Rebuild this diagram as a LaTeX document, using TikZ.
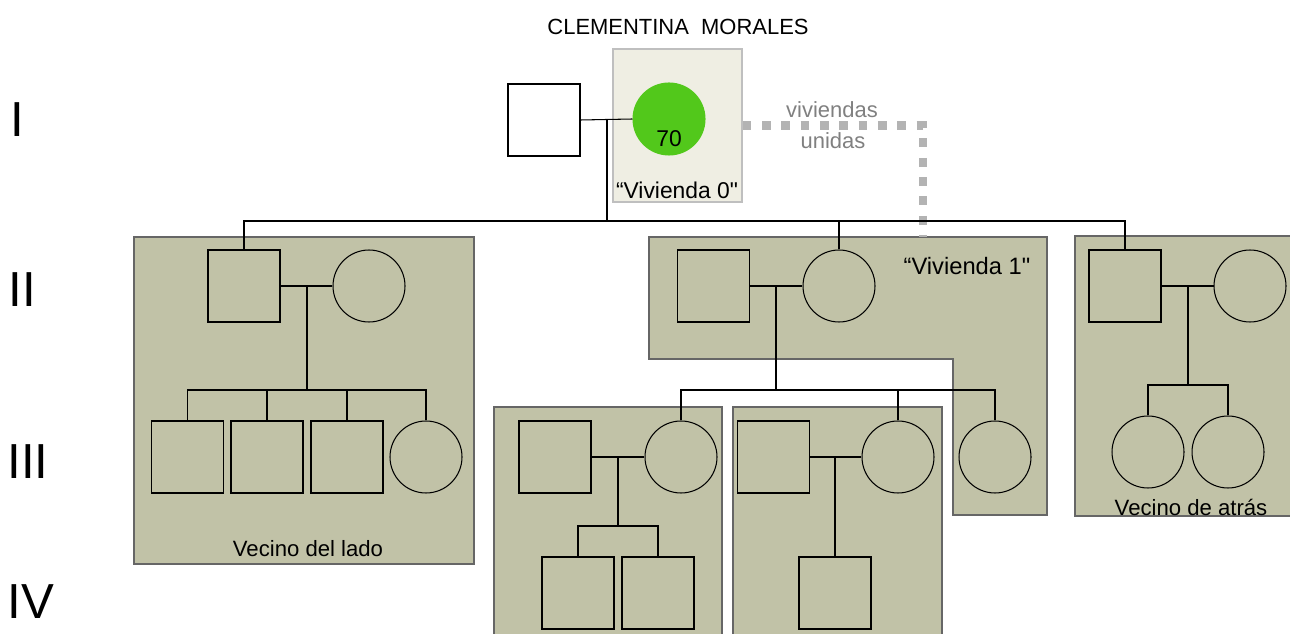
\documentclass[tikz,border=0pt]{standalone}
\usepackage{fontspec}
\setmainfont{Liberation Sans}
\definecolor{casa}{HTML}{C1C2A7}
\definecolor{casacero}{HTML}{EFEEE3}
\definecolor{verde}{HTML}{52C81B}
\definecolor{union}{HTML}{B3B3B3}

\begin{document}
\begin{tikzpicture}[x=0.02cm, y=-0.02cm,
  male/.style = {shape=rectangle, draw, line width=0.6pt, minimum size=1.44cm, inner sep=0pt},
  female/.style = {shape=circle, draw, line width=0.6pt, minimum size=1.44cm, inner sep=0pt},
  vivienda/.style = {draw=black!60, fill=casa, line width=0.8pt},
  linea/.style = {line width=0.6pt},
  generacion/.style = {font=\fontsize{28}{30}\selectfont}]
  \clip (0,0) rectangle (1290,634);

  % generaciones
  \node[generacion] (GenI) at (17,120) {I};
  \node[generacion] (GenII) at (22,290) {II};
  \node[generacion] (GenIII) at (28,462) {III};
  \node[generacion] (GenIV) at (31,602) {IV};

  % viviendas
  \node[draw=black!25, fill=casacero, line width=0.8pt, minimum width=2.58cm,
        minimum height=3.06cm, inner sep=0pt] (Vivienda0) at (677.5,125.5) {};
  \draw[vivienda] (134,237) rectangle (474,564);
  \draw[vivienda] (649,237) -- (1047,237) -- (1047,515) -- (953,515)
        -- (953,359) -- (649,359) -- cycle;
  \draw[vivienda] (494,407) rectangle (722,660);
  \draw[vivienda] (733,407) rectangle (942,660);
  \draw[vivienda] (1075,236) rectangle (1300,516);

  \node[font=\fontsize{12.5}{14}\selectfont] (Nombre) at (678,27) {CLEMENTINA\ \ MORALES};
  \node[font=\fontsize{13}{15}\selectfont] (EtiqViv0) at (677,190) {“Vivienda 0\textquotedbl};
  \node[font=\fontsize{13.5}{15}\selectfont] (EtiqViv1) at (967,266) {“Vivienda 1\textquotedbl};
  \node[font=\fontsize{12.6}{14}\selectfont] (EtiqLado) at (308,549) {Vecino del lado};
  \node[font=\fontsize{12.6}{14}\selectfont] (EtiqAtras) at (1191,507) {Vecino de atrás};

  % generacion I
  \node[male, fill=white] (Abuelo) at (544,120) {};
  \node[female, fill=verde, draw=verde] (Clementina) at (669,119) {};
  \node[font=\fontsize{13}{15}\selectfont] (Edad) at (669,139) {70};

  % generacion II
  \node[male] (Hijo1) at (244,286) {};
  \node[female] (Nuera1) at (369,286) {};
  \node[male] (Yerno2) at (713.5,286) {};
  \node[female] (Hija2) at (839,286) {};
  \node[male] (Hijo3) at (1125,286) {};
  \node[female] (Nuera3) at (1250,286) {};

  % generacion III
  \node[male] (Nieto1) at (187.5,457) {};
  \node[male] (Nieto2) at (267,457) {};
  \node[male] (Nieto3) at (347,457) {};
  \node[female] (Nieta4) at (426,457) {};
  \node[male] (Pareja5) at (555,457) {};
  \node[female] (Nieta5) at (681,457) {};
  \node[male] (Pareja6) at (773.5,457) {};
  \node[female] (Nieta6) at (898,457) {};
  \node[female] (Nieta7) at (995,457) {};
  \node[female] (Nieta8) at (1148,452) {};
  \node[female] (Nieta9) at (1228,452) {};

  % generacion IV
  \node[male] (Bisnieto1) at (578,593) {};
  \node[male] (Bisnieto2) at (658,593) {};
  \node[male] (Bisnieto3) at (835,593) {};

  % viviendas unidas
  \coordinate (Union) at (923,237);
  \draw[union, line width=5pt, dash pattern=on 5pt off 6pt] (Vivienda0.east) -| (Union);
  \node[text=black!50, font=\fontsize{12.5}{14}\selectfont] (Viviendas) at (832,110) {viviendas};
  \node[text=black!50, font=\fontsize{12.5}{14}\selectfont] (Unidas) at (833,141) {unidas};

  % uniones y descendencia
  \coordinate (m0) at (607,120);
  \coordinate (s0) at (607,221);
  \draw[linea] (Abuelo.east) -- (Clementina.west);
  \draw[linea] (m0) -- (s0);
  \draw[linea] (Hijo1.north) |- (s0) -| (Hijo3.north);
  \draw[linea] (Hija2.north) -- (Hija2.north |- s0);

  \coordinate (m1) at (307,286);
  \coordinate (s1) at (307,390);
  \draw[linea] (Hijo1.east) -- (Nuera1.west);
  \draw[linea] (m1) -- (s1);
  \draw[linea] (Nieto1.north) |- (s1) -| (Nieta4.north);
  \draw[linea] (Nieto2.north) -- (Nieto2.north |- s1);
  \draw[linea] (Nieto3.north) -- (Nieto3.north |- s1);

  \coordinate (m2) at (776,286);
  \coordinate (s2) at (776,390);
  \draw[linea] (Yerno2.east) -- (Hija2.west);
  \draw[linea] (m2) -- (s2);
  \draw[linea] (Nieta5.north) |- (s2) -| (Nieta7.north);
  \draw[linea] (Nieta6.north) -- (Nieta6.north |- s2);

  \coordinate (m3) at (1188,286);
  \coordinate (s3) at (1188,385);
  \draw[linea] (Hijo3.east) -- (Nuera3.west);
  \draw[linea] (m3) -- (s3);
  \draw[linea] (Nieta8.north) |- (s3) -| (Nieta9.north);

  \coordinate (m5) at (618,457);
  \coordinate (s5) at (618,526);
  \draw[linea] (Pareja5.east) -- (Nieta5.west);
  \draw[linea] (m5) -- (s5);
  \draw[linea] (Bisnieto1.north) |- (s5) -| (Bisnieto2.north);

  \coordinate (m6) at (835,457);
  \draw[linea] (Pareja6.east) -- (Nieta6.west);
  \draw[linea] (m6) -- (Bisnieto3.north);
\end{tikzpicture}
\end{document}
